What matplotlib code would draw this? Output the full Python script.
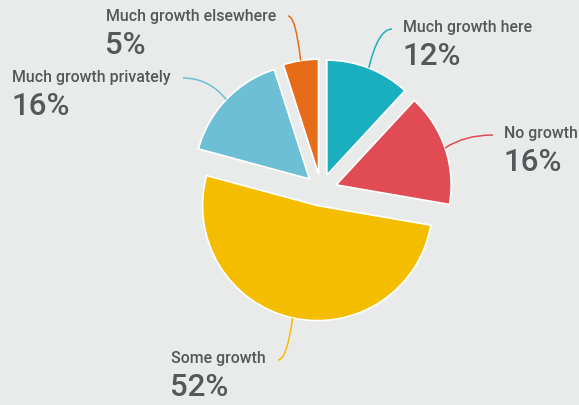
import numpy as np
import matplotlib
matplotlib.use('Agg')
import matplotlib.pyplot as plt
from matplotlib.path import Path
from matplotlib.patches import PathPatch

labels = ['Much growth here', 'No growth', 'Some growth',
          'Much growth privately', 'Much growth elsewhere']
shares = [12, 16, 52, 16, 5]
colors = ['#1aafbf', '#e04b54', '#f5bd00', '#6dbfd5', '#e66c18']

W, H = 579, 405
BG = '#e9ebea'
TEXT = '#53585a'

# label anchors: left edge and baseline of the name line, in pixels from top-left
label_pos = [(403, 32), (504, 138), (171, 363), (12, 82), (106, 21)]
# where each leader line ends, near its label
leader_end = [(392, 29), (493, 135), (278, 360), (183, 78), (288, 16)]

plt.rcParams['font.family'] = ['Roboto', 'DejaVu Sans']

fig = plt.figure(figsize=(W / 100, H / 100), dpi=100, facecolor=BG)
ax = fig.add_axes([0, 0, 1, 1])
ax.set_facecolor(BG)

cx, cy, R = 321, H - 190, 115
wedges, _ = ax.pie(shares, colors=colors, startangle=90, counterclock=False,
                   center=(cx, cy), radius=R, explode=[16] * len(shares),
                   wedgeprops=dict(edgecolor='white', linewidth=1.2))

ax.set_xlim(0, W)
ax.set_ylim(0, H)
ax.set_aspect('equal')
ax.axis('off')

for w, col, name, v, (lx, ly), (ex, ey) in zip(wedges, colors, labels, shares,
                                               label_pos, leader_end):
    mid = np.deg2rad((w.theta1 + w.theta2) / 2)
    sx = w.center[0] + w.r * np.cos(mid)
    sy = w.center[1] + w.r * np.sin(mid)
    ey = H - ey
    ctrl = (sx + 0.4 * (ex - sx), ey)
    path = Path([(sx, sy), ctrl, (ex, ey)], [Path.MOVETO, Path.CURVE3, Path.CURVE3])
    ax.add_patch(PathPatch(path, facecolor='none', edgecolor=col, lw=1.1))

    ax.text(lx, H - ly, name, fontsize=11.4, color=TEXT, ha='left', va='baseline',
            fontweight='medium')
    ax.text(lx - 1, H - ly - 33, f'{v}%', fontsize=22.5, color=TEXT, ha='left',
            va='baseline', fontweight='medium')

fig.savefig('out.png', dpi=100, facecolor=BG)
